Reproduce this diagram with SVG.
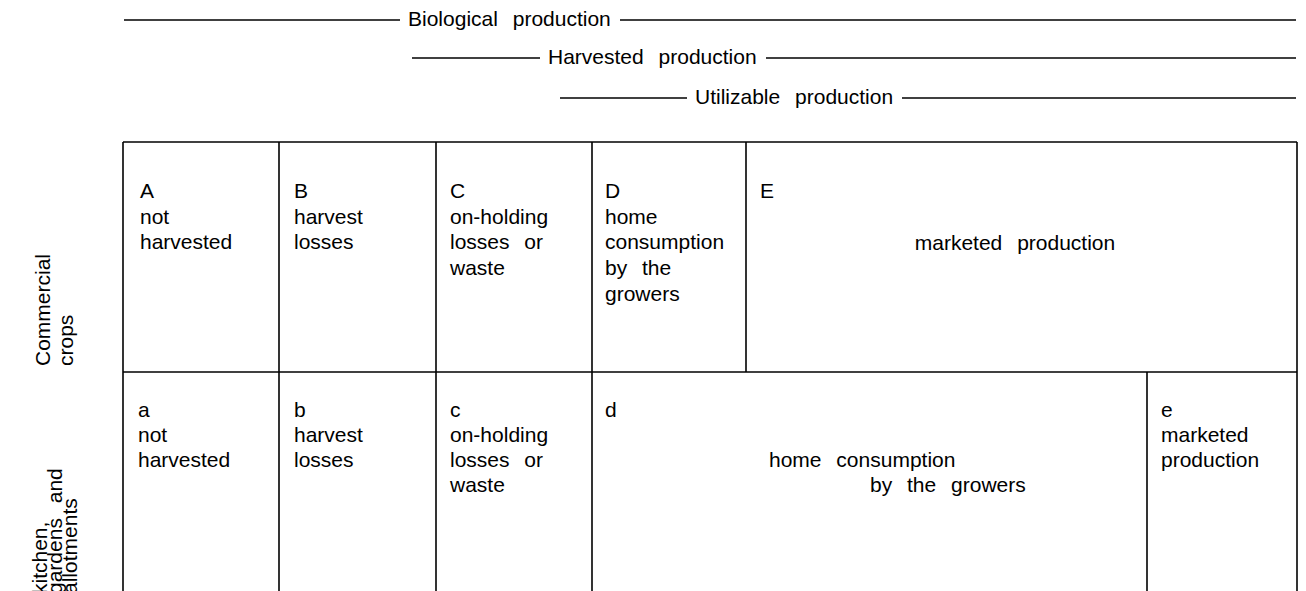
<svg xmlns="http://www.w3.org/2000/svg" width="1306" height="591" viewBox="0 0 1306 591">
<style>
  .t { font-family: "Liberation Sans", Arial, sans-serif; font-size: 21px; fill: #000; word-spacing: 9px; }
  .ln { stroke: #000; stroke-width: 1.6; fill: none; }
</style>
<rect x="0" y="0" width="1306" height="591" fill="#fff"/>

<g id="header-scales">
  <g id="biological">
    <line class="ln" x1="124" y1="20" x2="400" y2="20"/>
    <text class="t" x="408" y="26">Biological production</text>
    <line class="ln" x1="620" y1="20" x2="1296" y2="20"/>
  </g>
  <g id="harvested">
    <line class="ln" x1="412" y1="58" x2="540" y2="58"/>
    <text class="t" x="548" y="64">Harvested production</text>
    <line class="ln" x1="766" y1="58" x2="1296" y2="58"/>
  </g>
  <g id="utilizable">
    <line class="ln" x1="560" y1="98" x2="687" y2="98"/>
    <text class="t" x="695" y="104">Utilizable production</text>
    <line class="ln" x1="902" y1="98" x2="1296" y2="98"/>
  </g>
</g>

<g id="row-labels">
  <g id="label-commercial">
    <text class="t" transform="translate(50,366) rotate(-90)">Commercial</text>
    <text class="t" transform="translate(73,366) rotate(-90)">crops</text>
  </g>
  <g id="label-kitchen">
    <text class="t" transform="translate(47,594) rotate(-90)">kitchen,</text>
    <text class="t" transform="translate(62,594) rotate(-90)">gardens and</text>
    <text class="t" transform="translate(77,594) rotate(-90)">allotments</text>
  </g>
</g>

<g id="table-grid">
  <line class="ln" x1="123" y1="142" x2="1297" y2="142"/>
  <line class="ln" x1="123" y1="372" x2="1297" y2="372"/>
  <line class="ln" x1="123" y1="142" x2="123" y2="600"/>
  <line class="ln" x1="1297" y1="142" x2="1297" y2="600"/>
  <line class="ln" x1="279" y1="142" x2="279" y2="600"/>
  <line class="ln" x1="436" y1="142" x2="436" y2="600"/>
  <line class="ln" x1="592" y1="142" x2="592" y2="600"/>
  <line class="ln" x1="746" y1="142" x2="746" y2="372"/>
  <line class="ln" x1="1147" y1="372" x2="1147" y2="600"/>
</g>

<g id="cell-A">
  <text class="t" x="140" y="198"><tspan x="140">A</tspan><tspan x="140" dy="25.7">not</tspan><tspan x="140" dy="25.7">harvested</tspan></text>
</g>
<g id="cell-B">
  <text class="t" x="294" y="198"><tspan x="294">B</tspan><tspan x="294" dy="25.7">harvest</tspan><tspan x="294" dy="25.7">losses</tspan></text>
</g>
<g id="cell-C">
  <text class="t" x="450" y="198"><tspan x="450">C</tspan><tspan x="450" dy="25.7">on-holding</tspan><tspan x="450" dy="25.7">losses or</tspan><tspan x="450" dy="25.7">waste</tspan></text>
</g>
<g id="cell-D">
  <text class="t" x="605" y="198"><tspan x="605">D</tspan><tspan x="605" dy="25.7">home</tspan><tspan x="605" dy="25.7">consumption</tspan><tspan x="605" dy="25.7">by the</tspan><tspan x="605" dy="25.7">growers</tspan></text>
</g>
<g id="cell-E">
  <text class="t" x="760" y="198">E</text>
  <text class="t" x="1015" y="250" text-anchor="middle">marketed production</text>
</g>

<g id="cell-a">
  <text class="t" x="138" y="417"><tspan x="138">a</tspan><tspan x="138" dy="25">not</tspan><tspan x="138" dy="25">harvested</tspan></text>
</g>
<g id="cell-b">
  <text class="t" x="294" y="417"><tspan x="294">b</tspan><tspan x="294" dy="25">harvest</tspan><tspan x="294" dy="25">losses</tspan></text>
</g>
<g id="cell-c">
  <text class="t" x="450" y="417"><tspan x="450">c</tspan><tspan x="450" dy="25">on-holding</tspan><tspan x="450" dy="25">losses or</tspan><tspan x="450" dy="25">waste</tspan></text>
</g>
<g id="cell-d">
  <text class="t" x="605" y="417">d</text>
  <text class="t" x="769" y="467">home consumption</text>
  <text class="t" x="870" y="492">by the growers</text>
</g>
<g id="cell-e">
  <text class="t" x="1161" y="417"><tspan x="1161">e</tspan><tspan x="1161" dy="25">marketed</tspan><tspan x="1161" dy="25">production</tspan></text>
</g>
</svg>
